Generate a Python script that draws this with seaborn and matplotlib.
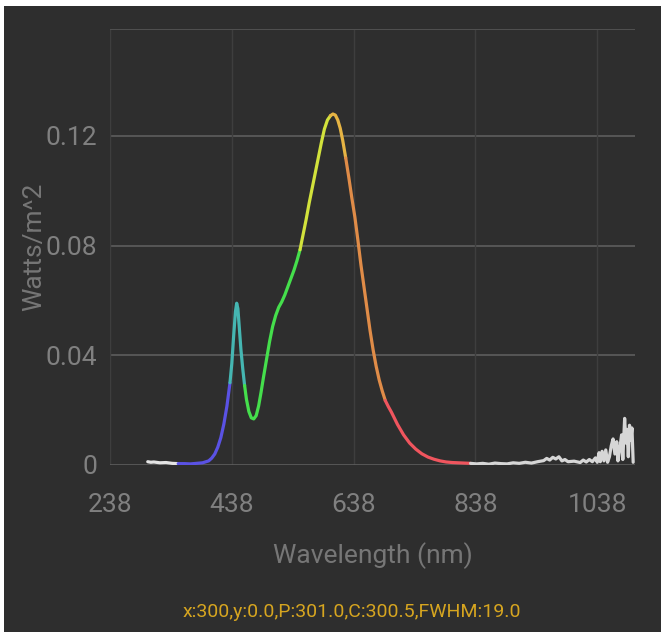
import numpy as np
import pandas as pd
import seaborn as sns
import matplotlib.pyplot as plt
from matplotlib.patches import Rectangle

# spectrum (nm, Watts/m^2)
wavelength = [300, 305, 310, 320, 330, 340, 350, 360, 370, 380, 390, 400, 405, 410, 415,
              420, 425, 430, 435, 438, 441, 444, 446, 448, 450, 453, 456, 459, 462, 466,
              470, 474, 478, 482, 486, 490, 495, 500, 505, 510, 515, 520, 525, 530, 535,
              540, 545, 550, 555, 560, 565, 570, 575, 580, 585, 590, 595, 600, 604, 608,
              612, 616, 620, 625, 630, 635, 640, 645, 650, 655, 660, 665, 670, 675, 680,
              685, 690, 695, 700, 710, 720, 730, 740, 750, 760, 770, 780, 790, 800, 810,
              820, 830, 840, 850, 860, 870, 880, 890, 900, 910, 920, 930, 940, 950, 955,
              960, 965, 970, 975, 980, 985, 990, 1000, 1010, 1015, 1020, 1025, 1030, 1035, 1038,
              1041, 1043, 1046, 1049, 1052, 1055, 1058, 1061, 1064, 1067, 1070, 1072, 1075, 1078, 1080,
              1083, 1085, 1087, 1089, 1091, 1093, 1095, 1097]
watts = [0.0012, 0.0010, 0.0011, 0.0008, 0.0009, 0.0006, 0.0005, 0.0005, 0.0004, 0.0006,
         0.0008, 0.0015, 0.0025, 0.0040, 0.0065, 0.0100, 0.0150, 0.0215, 0.0300, 0.0370,
         0.0470, 0.0560, 0.0590, 0.0570, 0.0510, 0.0420, 0.0350, 0.0290, 0.0240, 0.0195,
         0.0172, 0.0168, 0.0180, 0.0215, 0.0265, 0.0320, 0.0385, 0.0450, 0.0505, 0.0545,
         0.0575, 0.0595, 0.0620, 0.0650, 0.0680, 0.0710, 0.0745, 0.0785, 0.0840, 0.0895,
         0.0955, 0.1010, 0.1065, 0.1120, 0.1175, 0.1225, 0.1258, 0.1274, 0.1280, 0.1276,
         0.1258, 0.1228, 0.1185, 0.1120, 0.1050, 0.0975, 0.0905, 0.0820, 0.0730, 0.0650,
         0.0570, 0.0490, 0.0420, 0.0360, 0.0310, 0.0270, 0.0235, 0.0213, 0.0193, 0.0148,
         0.0110, 0.0080, 0.0058, 0.0041, 0.0029, 0.0021, 0.0015, 0.0011, 0.0009, 0.0008,
         0.0007, 0.0006, 0.0004, 0.0006, 0.0003, 0.0007, 0.0005, 0.0004, 0.0008, 0.0006,
         0.0010, 0.0007, 0.0012, 0.0016, 0.0024, 0.0018, 0.0028, 0.0022, 0.0030, 0.0015,
         0.0020, 0.0012, 0.0014, 0.0009, 0.0018, 0.0011, 0.0020, 0.0012, 0.0026, 0.0010,
         0.0045, 0.0012, 0.0050, 0.0015, 0.0055, 0.0010, 0.0030, 0.0070, 0.0095, 0.0040,
         0.0085, 0.0015, 0.0060, 0.0110, 0.0020, 0.0170, 0.0080, 0.0130, 0.0030, 0.0145,
         0.0090, 0.0135, 0.0010]

# colour bands along the curve (start nm, end nm, colour)
band_names = ['uv', 'blue', 'cyan', 'green', 'yellow', 'amber', 'orange', 'red', 'ir']
band_start = [300, 350, 435, 459, 550, 600, 625, 690, 830]
band_end = [350, 435, 459, 550, 600, 625, 690, 830, 1097]
band_colors = ['#e4e4e4', '#5a52e4', '#45b6b2', '#45df4c', '#d2e23c', '#e6b444',
               '#e08c48', '#f0555e', '#d6d6d6']

x_ticks = [238, 438, 638, 838, 1038]
y_ticks = [0, 0.04, 0.08, 0.12]
y_tick_labels = ['0', '0.04', '0.08', '0.12']
status = 'x:300,y:0.0,P:301.0,C:300.5,FWHM:19.0'

spec = pd.DataFrame({'wavelength': wavelength, 'watts': watts})
parts = []
for name, lo, hi in zip(band_names, band_start, band_end):
    p = spec[(spec['wavelength'] >= lo) & (spec['wavelength'] <= hi)].copy()
    p['band'] = name
    parts.append(p)
df = pd.concat(parts, ignore_index=True)

bg = '#2e2e2e'
sns.set_theme(style='dark', rc={'axes.facecolor': bg, 'figure.facecolor': 'white'})
plt.rcParams['font.family'] = ['Roboto', 'DejaVu Sans']

fig = plt.figure(figsize=(6.65, 6.32), dpi=100)
# dark panel with a thin white edge like the screenshot
fig.patches.append(Rectangle((4 / 665, 0), 657 / 665, 1 - 6 / 632, transform=fig.transFigure,
                             facecolor=bg, edgecolor='none', zorder=-10))
ax = fig.add_axes([110 / 665, 1 - 465 / 632, 525 / 665, 436 / 632])

sns.lineplot(data=df, x='wavelength', y='watts', hue='band', palette=dict(zip(band_names, band_colors)),
             estimator=None, legend=False, linewidth=2.3, ax=ax)

ax.set_xlim(238, 1100)
ax.set_ylim(0, 0.159)
ax.set_xticks(x_ticks)
ax.set_xticklabels([str(t) for t in x_ticks])
ax.set_yticks(y_ticks)
ax.set_yticklabels(y_tick_labels)

for t in y_ticks[1:]:
    ax.axhline(t, color='#626262', lw=1.1, zorder=0)
for t in x_ticks:
    ax.axvline(t, color='#3e3e3e', lw=1, zorder=0)
ax.axhline(0, color='#5e5e5e', lw=1.2, zorder=0)
ax.axhline(0.159, color='#505050', lw=1.4, zorder=0)

for s in ax.spines.values():
    s.set_visible(False)
ax.tick_params(axis='both', length=0, labelsize=19, labelcolor='#808080')
ax.tick_params(axis='x', pad=20)
ax.tick_params(axis='y', pad=9)

ax.set_xlabel('Wavelength (nm)', fontsize=19, color='#767676', labelpad=18)
ax.set_ylabel('Watts/m^2', fontsize=19, color='#767676', labelpad=0)

fig.text(352 / 665, 1 - 612 / 632, status, ha='center', va='center', fontsize=14, color='#d6a520')

fig.savefig('out.png', dpi=100)
